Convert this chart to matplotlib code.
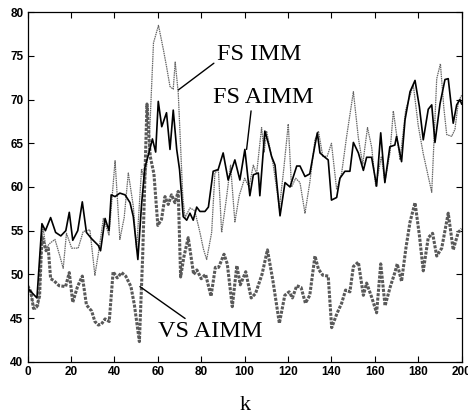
import matplotlib
matplotlib.use("Agg")
import matplotlib.pyplot as plt

# FS IMM (thin dotted gray)
fs_imm_k = [0, 2, 3.5, 5, 7, 8.5, 10, 12.6, 14.5, 16.4, 17.9, 20.3, 23.3, 25.6, 28.7,
            31.0, 33, 34.9, 37.5, 40.3, 42.5, 44.5, 46.4, 48.7, 50.2, 52.5, 54, 56, 58,
            60.3, 62.5, 64, 65.6, 67.1, 68, 69.4, 71.5, 72.5, 74.8, 77, 79.4, 81, 82.5,
            84.8, 86.3, 87.9, 89.4, 91.5, 93.5, 95.5, 97.5, 100, 102, 104, 105.5, 107.8,
            109, 110.1, 113.2, 116.0, 118, 120.1, 121.6, 123.5, 125.5, 127.8, 130, 132.4,
            134, 136, 138, 140, 142.4, 144.7, 147, 150.1, 152.4, 154.4, 156.6, 158.5,
            160.4, 163, 164.6, 167, 168.5, 170, 171.6, 174.2, 177.7, 180, 182.3, 186.2,
            188.5, 190.2, 191.8, 193.1, 195.4, 196.9, 198.5, 200]
fs_imm = [49.0, 47.2, 46.0, 46.3, 55.5, 53.0, 53.5, 54.0, 52.4, 50.7, 54.7, 53.0, 53.0,
          54.9, 55.1, 49.9, 53.0, 56.4, 54.5, 63.0, 54.0, 56.5, 61.6, 57.8, 52.8, 62.1,
          60.5, 65.0, 76.5, 78.5, 75.8, 73.8, 71.5, 71.2, 74.3, 70.8, 58.9, 56.5, 57.6,
          57.3, 54.8, 52.9, 51.7, 54.8, 61.6, 62.0, 54.8, 58.5, 62.5, 56.0, 59.0, 61.0,
          60.0, 62.5, 61.5, 66.8, 64.0, 66.4, 62.5, 57.6, 62.0, 67.2, 60.0, 61.0, 60.5,
          57.0, 60.5, 65.4, 66.4, 63.5, 63.5, 65.0, 59.7, 61.6, 65.8, 70.9, 65.6, 62.6,
          66.8, 64.6, 60.1, 63.5, 60.6, 64.0, 68.7, 66.0, 63.1, 68.8, 71.7, 67.0, 63.8,
          59.4, 72.4, 74.1, 69.0, 66.0, 65.8, 66.6, 69.8, 70.5]

# FS AIMM (solid black)
fs_aimm_k = [0, 2, 4.3, 6.6, 8.2, 10.6, 12.9, 15.3, 17.6, 19.2, 20.8, 23.1, 25.2, 27.1,
             29.4, 32.6, 33.6, 35.7, 37.5, 38.5, 40.3, 42.5, 44.9, 47.2, 48.7, 50.8, 52.5,
             54, 56, 57.5, 59, 60.2, 61.8, 64, 65.6, 67.1, 68.7, 70, 71.7, 73.3, 74.8,
             76.3, 77.9, 79.4, 81.7, 83.3, 85.5, 87.8, 90.1, 92.4, 95.5, 97.8, 100.1,
             102.4, 104, 106.3, 107, 109.3, 110.9, 112.4, 114, 116.3, 118.6, 120.9, 124,
             125.5, 127.8, 130, 132.4, 133.5, 134.7, 136.5, 138.5, 140, 142.4, 143.9,
             146.2, 148.5, 150.1, 152.4, 154.7, 156.2, 158.5, 160.8, 162.7, 164.6, 166.9,
             169.2, 170, 172.3, 173.9, 176.2, 178.5, 180.5, 182.3, 184.6, 186.2, 187.7,
             190, 192.3, 193.8, 196.1, 197.7, 199.2, 200]
fs_aimm = [48.4, 47.9, 47.3, 55.8, 55.0, 56.5, 54.8, 54.4, 55.0, 57.1, 53.9, 55.0, 58.3,
           54.8, 54.1, 53.3, 52.7, 56.4, 55.0, 59.1, 58.9, 59.3, 59.1, 58.2, 56.6, 51.7,
           58.0, 62.2, 64.0, 65.5, 64.0, 69.8, 66.9, 68.5, 64.3, 68.8, 64.3, 62.0, 56.6,
           56.2, 57.0, 56.2, 57.7, 57.2, 57.2, 57.7, 61.8, 62.0, 63.9, 60.8, 63.1, 60.8,
           64.3, 59.0, 61.4, 61.6, 59.0, 66.4, 65.0, 63.5, 62.5, 56.7, 60.5, 60.0, 62.4,
           62.4, 61.2, 61.5, 64.8, 66.2, 63.9, 63.5, 63.1, 58.5, 58.8, 61.0, 61.8, 61.8,
           65.1, 63.9, 61.9, 63.4, 63.4, 60.1, 66.2, 60.5, 64.6, 64.8, 65.8, 62.9, 67.7,
           70.9, 72.2, 69.2, 65.4, 68.9, 69.4, 65.1, 69.5, 72.3, 72.4, 67.3, 69.4, 70.0,
           69.5]

# VS AIMM (thick dotted gray)
vs_aimm_k = [0, 1.5, 2.7, 4.3, 5.5, 6.6, 8.5, 9.5, 10.6, 12, 14.5, 17.5, 19.2, 20.8, 23,
             25.2, 27.1, 29.5, 31, 32.6, 34, 35.7, 37.6, 39.4, 41.3, 43.3, 45.2, 47.6,
             49.2, 51.5, 53, 55, 56.5, 58.2, 60, 61.7, 63.3, 64.8, 66.3, 67.9, 69.4, 70.5,
             72, 74, 76.5, 78, 80, 82, 84.5, 86.5, 88, 90.5, 92, 94.3, 96.4, 98, 100.5,
             103, 105, 108, 110.5, 113, 116, 118.5, 120.5, 122, 124, 126, 128, 130, 132.4,
             134, 136, 138.5, 140.1, 142.5, 144.7, 146.5, 148.5, 150.1, 152.4, 154.7,
             156.2, 158.5, 160.8, 162.7, 164.7, 167, 169.2, 170.3, 172.3, 174.3, 176.2,
             178.5, 180.5, 182.3, 184.6, 186.6, 188.5, 190.8, 193.8, 196.1, 198.4, 200]
vs_aimm = [48.7, 48.0, 46.1, 46.4, 47.5, 54.3, 52.7, 53.0, 49.5, 49.3, 48.7, 48.6, 50.2,
           46.8, 48.6, 49.8, 46.5, 45.8, 44.6, 44.2, 44.3, 44.9, 44.6, 50.3, 49.6, 50.2,
           49.8, 48.6, 46.5, 42.3, 52.0, 69.5, 63.5, 61.5, 55.6, 56.3, 58.9, 58.0, 59.1,
           58.2, 59.5, 49.7, 52.0, 54.2, 50.0, 50.5, 49.5, 50.0, 47.5, 50.8, 50.8, 52.3,
           51.2, 46.3, 51.0, 48.8, 50.3, 47.3, 47.8, 50.0, 52.8, 49.3, 44.4, 47.6, 48.0,
           47.3, 48.7, 48.5, 46.7, 47.6, 52.1, 50.6, 49.9, 49.8, 43.9, 45.5, 46.7, 48.2,
           48.0, 50.9, 51.4, 47.6, 49.0, 47.4, 45.6, 51.2, 46.4, 48.5, 50.2, 51.2, 49.2,
           53.0, 56.0, 58.2, 54.5, 50.4, 54.2, 54.7, 52.1, 53.0, 57.0, 52.8, 54.8, 55.2]

x_ticks = list(range(0, 201, 20))
y_ticks = list(range(40, 81, 5))

fig = plt.figure(figsize=(4.68, 4.16), dpi=100)
ax = fig.add_axes([0.059, 0.1305, 0.9275, 0.84])

ax.plot(fs_imm_k, fs_imm, color="0.4", lw=0.9, ls=(0, (1.2, 0.6)))
ax.plot(vs_aimm_k, vs_aimm, color="0.35", lw=2.2, ls=(0, (1.0, 0.45)))
ax.plot(fs_aimm_k, fs_aimm, color="black", lw=1.2)

ax.set_xlim(0, 200)
ax.set_ylim(40, 80)
ax.set_xticks(x_ticks)
ax.set_yticks(y_ticks)
ax.tick_params(direction="in", top=True, right=True, length=4, width=0.8,
               labelsize=8.5, pad=3)
for lab in ax.get_xticklabels() + ax.get_yticklabels():
    lab.set_fontfamily("Liberation Sans")
    lab.set_fontweight("bold")
for s in ax.spines.values():
    s.set_linewidth(0.9)

serif = {"family": "Liberation Serif", "size": 17.5}
ax.annotate("FS IMM", xy=(69.4, 71.1), xytext=(87.1, 74.5), **serif,
            arrowprops=dict(arrowstyle="-", color="black", lw=1.0,
                            shrinkA=0, shrinkB=0, relpos=(0, 0.2)))
ax.annotate("FS AIMM", xy=(100.9, 64.3), xytext=(85.4, 69.6), **serif,
            arrowprops=dict(arrowstyle="-", color="black", lw=1.0,
                            shrinkA=0, shrinkB=0, relpos=(0.38, -0.1)))
ax.annotate("VS AIMM", xy=(51.75, 48.6), xytext=(60.0, 42.8), **serif,
            arrowprops=dict(arrowstyle="-", color="black", lw=1.0,
                            shrinkA=0, shrinkB=0, relpos=(0.27, 1.1)))

ax.set_xlabel("k", family="Liberation Serif", fontsize=16, labelpad=13)

fig.savefig("out.png", dpi=100)
